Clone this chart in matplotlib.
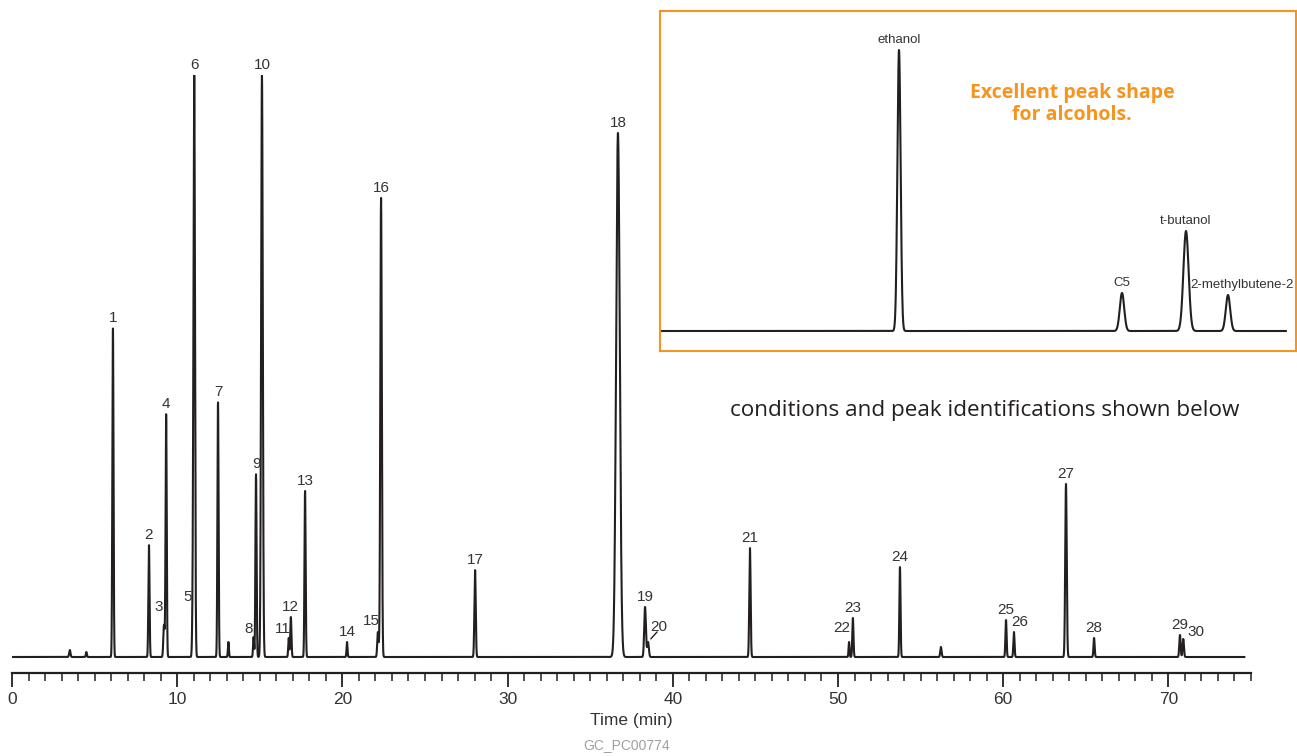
import numpy as np
import matplotlib.pyplot as plt
from matplotlib.ticker import MultipleLocator

# main chromatogram: peak id, retention time (min), height (px above baseline), width (min)
peak_ids = ['1', '2', '3', '4', '5', '6', '7', '', '8', '9', '10', '11', '12', '13', '14',
            '15', '16', '17', '18', '19', '20', '21', '22', '23', '24', '', '25', '26', '27',
            '28', '29', '30', '', '']
peak_times = [6.11, 8.29, 9.20, 9.33, 10.95, 11.03, 12.47, 13.10, 14.62, 14.77, 15.13, 16.75,
              16.88, 17.74, 20.28, 22.15, 22.34, 28.03, 36.68, 38.32, 38.50, 44.67, 50.67,
              50.90, 53.75, 56.23, 60.17, 60.65, 63.80, 65.50, 70.70, 70.90, 3.50, 4.50]
peak_heights = [329, 112, 32, 243, 44, 582, 255, 15, 20, 183, 582, 19, 40, 166, 15, 25, 459,
                87, 524, 50, 15, 109, 15, 39, 90, 10, 37, 25, 173, 19, 22, 18, 7, 5]
peak_widths = [0.035, 0.035, 0.04, 0.035, 0.04, 0.045, 0.035, 0.03, 0.03, 0.035, 0.05, 0.03,
               0.035, 0.035, 0.03, 0.04, 0.045, 0.04, 0.11, 0.05, 0.05, 0.04, 0.03, 0.035,
               0.035, 0.04, 0.035, 0.035, 0.045, 0.035, 0.04, 0.04, 0.04, 0.03]

# label offsets (pixels) for labels not centred over their peak
label_offsets = {'3': (-5, 11), '5': (-5, 9), '8': (-5, 1), '11': (-6, 2), '15': (-7, 4),
                 '20': (11, 8), '22': (-7, 7), '26': (6, 3), '30': (13, 0)}

# inset: alcohols
inset_names = ['ethanol', 'C5', 't-butanol', '2-methylbutene-2']
inset_times = [237, 460, 524, 566]
inset_heights = [281, 38, 100, 36]
inset_widths = [1.6, 2.2, 2.6, 2.2]

orange = '#F7941D'
ink = '#231f20'
narrow = ['Liberation Sans', 'DejaVu Sans']

t = np.arange(0, 74.6, 0.004)
signal = np.zeros_like(t)
for tr, h, w in zip(peak_times, peak_heights, peak_widths):
    signal += h * np.exp(-0.5 * ((t - tr) / w) ** 2)

fig = plt.figure(figsize=(12.97, 7.56), dpi=100)
ax = fig.add_axes([12 / 1297, 83 / 756, 1239 / 1297, 598 / 756])
ax.plot(t, signal, color=ink, lw=1.5)
ax.set_xlim(0, 75)
ax.set_ylim(-16, 582)
for s in ['left', 'right', 'top']:
    ax.spines[s].set_visible(False)
ax.spines['bottom'].set_linewidth(1.6)
ax.spines['bottom'].set_color(ink)
ax.set_yticks([])
ax.xaxis.set_major_locator(MultipleLocator(10))
ax.xaxis.set_minor_locator(MultipleLocator(1))
ax.tick_params(axis='x', which='major', length=10, width=1.3, color=ink, pad=4,
               labelsize=12.5, labelcolor='#333333')
ax.tick_params(axis='x', which='minor', length=5.5, width=1.1, color=ink)
for lab in ax.get_xticklabels():
    lab.set_family(narrow)
ax.set_xlabel('Time (min)', fontsize=12.5, color='#333333', labelpad=4, family=narrow)
fig.text(627 / 1297, 1 - 745 / 756, 'GC_PC00774', ha='center', va='center', fontsize=10,
         color='#a0a0a0', family=narrow)

for pid, tr, h in zip(peak_ids, peak_times, peak_heights):
    if not pid:
        continue
    dx, dy = label_offsets.get(pid, (0, 3))
    ax.annotate(pid, (tr, h), xytext=(dx, dy), textcoords='offset pixels', ha='center',
                va='bottom', fontsize=11, color='#333333', annotation_clip=False, family=narrow)
# leader for peak 20
i20 = peak_ids.index('20')
ax.annotate('', (peak_times[i20], peak_heights[i20]), xytext=(9, 10), textcoords='offset pixels',
            arrowprops=dict(arrowstyle='-', color=ink, lw=1.0, shrinkA=0, shrinkB=3))

fig.text(985 / 1297, 1 - 411 / 756, 'conditions and peak identifications shown below',
         ha='center', va='center', fontsize=16.2, color=ink, family=['Open Sans', 'DejaVu Sans'])

# inset
ix = np.arange(0, 624, 0.2)
isig = np.zeros_like(ix)
for tr, h, w in zip(inset_times, inset_heights, inset_widths):
    isig += h * np.exp(-0.5 * ((ix - tr) / w) ** 2)
iax = fig.add_axes([660 / 1297, 1 - 351 / 756, 636 / 1297, 340 / 756])
iax.plot(ix, isig, color=ink, lw=1.5)
iax.set_xlim(-2, 634)
iax.set_ylim(-20, 320)
iax.set_xticks([])
iax.set_yticks([])
for s in iax.spines.values():
    s.set_color(orange)
    s.set_linewidth(1.5)
inset_label_dx = [0, 0, 0, 14]
for name, tr, h, dx in zip(inset_names, inset_times, inset_heights, inset_label_dx):
    iax.annotate(name, (tr, h), xytext=(dx, 4), textcoords='offset pixels', ha='center',
                 va='bottom', fontsize=9.5, color='#333333', family=narrow)
iax.text(412 / 636, 1 - 93 / 340, 'Excellent peak shape\nfor alcohols.', transform=iax.transAxes,
         ha='center', va='center', multialignment='center', fontsize=14, fontweight='bold',
         color=orange, linespacing=1.15, family=['Open Sans', 'DejaVu Sans'])

fig.savefig('out.png', dpi=100)
